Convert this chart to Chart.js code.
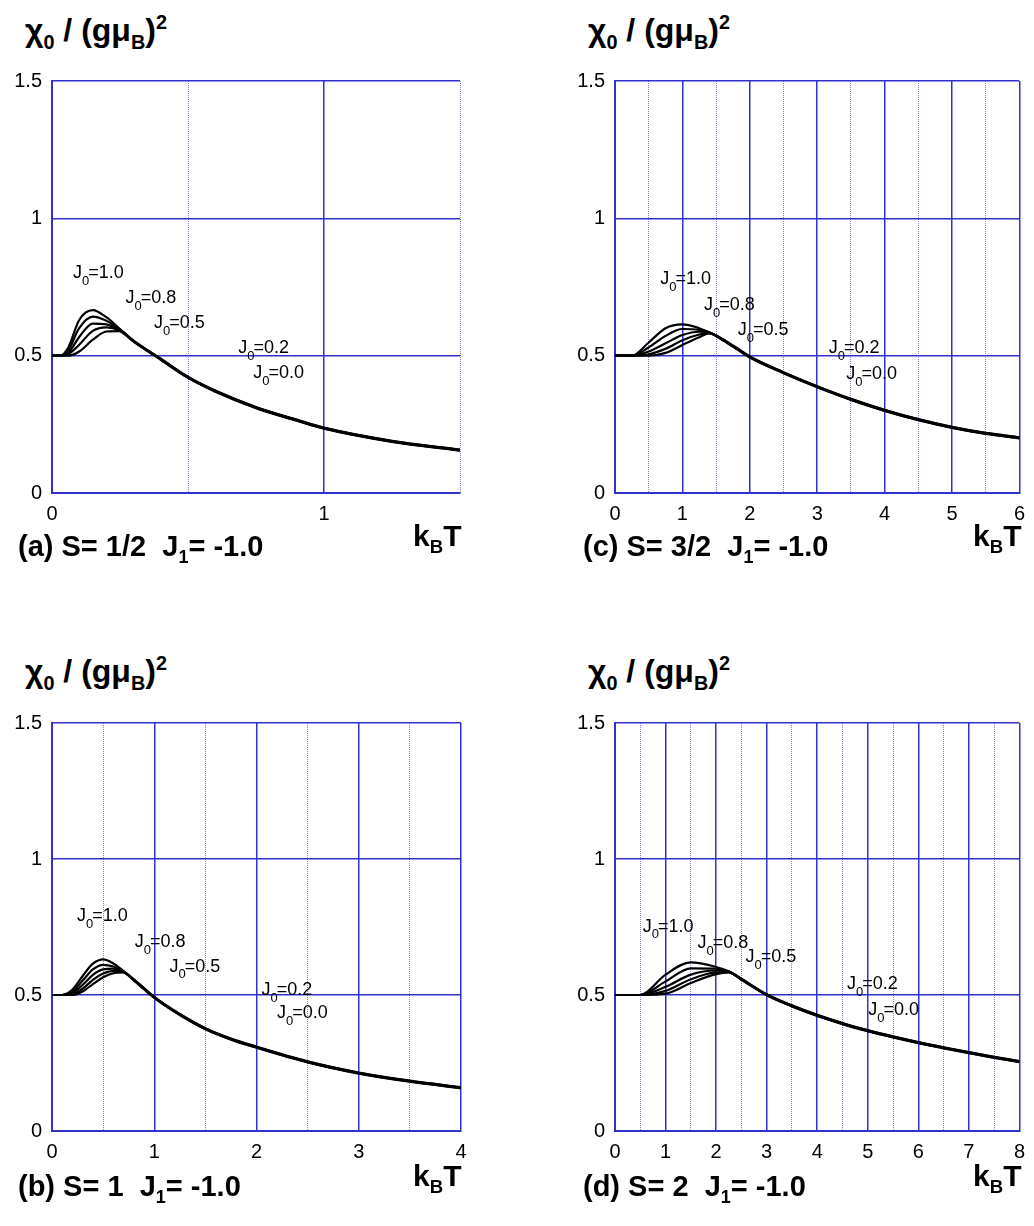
<!DOCTYPE html>
<html lang="en">
<head>
<meta charset="UTF-8">
<title>chi0 / (g muB)^2 vs kBT</title>
<script src="https://cdn.jsdelivr.net/npm/chart.js"></script>
<style>
  body { margin: 0; background: #fff; }
  #page { position: relative; width: 1034px; height: 1226px; overflow: hidden;
          font-family: "Liberation Sans", Arial, sans-serif; color: #000; }
  .panel { position: absolute; }
  .ttl, .cap, .kbt { position: absolute; font-weight: bold; white-space: nowrap; line-height: 1; }
  .ttl { font-size: 32px; }
  .cap { font-size: 29px; }
  .kbt { font-size: 30px; }
  .sb { font-size: 0.62em; position: relative; top: 0.38em; }
  .sp { font-size: 0.62em; position: relative; top: -0.62em; }
</style>
</head>
<body>
<div id="page">
  <!-- (a) -->
  <div class="ttl" style="left:25px;top:14px">χ<span class="sb">0</span> / (gμ<span class="sb">B</span>)<span class="sp">2</span></div>
  <div class="panel" style="left:0;top:0"><canvas id="chartA" width="520" height="613"></canvas></div>
  <div class="cap" style="left:18px;top:532px">(a) S= 1/2&nbsp; J<span class="sb">1</span>= -1.0</div>
  <div class="kbt" style="left:413px;top:521px">k<span class="sb">B</span>T</div>

  <!-- (c) -->
  <div class="ttl" style="left:588px;top:14px">χ<span class="sb">0</span> / (gμ<span class="sb">B</span>)<span class="sp">2</span></div>
  <div class="panel" style="left:563px;top:0"><canvas id="chartC" width="471" height="613"></canvas></div>
  <div class="cap" style="left:583px;top:532px">(c) S= 3/2&nbsp; J<span class="sb">1</span>= -1.0</div>
  <div class="kbt" style="left:973px;top:521px">k<span class="sb">B</span>T</div>

  <!-- (b) -->
  <div class="ttl" style="left:25px;top:655px">χ<span class="sb">0</span> / (gμ<span class="sb">B</span>)<span class="sp">2</span></div>
  <div class="panel" style="left:0;top:642px"><canvas id="chartB" width="520" height="584"></canvas></div>
  <div class="cap" style="left:18px;top:1172px">(b) S= 1&nbsp; J<span class="sb">1</span>= -1.0</div>
  <div class="kbt" style="left:413px;top:1161px">k<span class="sb">B</span>T</div>

  <!-- (d) -->
  <div class="ttl" style="left:588px;top:655px">χ<span class="sb">0</span> / (gμ<span class="sb">B</span>)<span class="sp">2</span></div>
  <div class="panel" style="left:563px;top:642px"><canvas id="chartD" width="471" height="584"></canvas></div>
  <div class="cap" style="left:583px;top:1172px">(d) S= 2&nbsp; J<span class="sb">1</span>= -1.0</div>
  <div class="kbt" style="left:973px;top:1161px">k<span class="sb">B</span>T</div>
</div>

<script>
// J0 values of the five curves (same order in every panel)
const j0Labels = ['1.0', '0.8', '0.5', '0.2', '0.0'];

// (a) S = 1/2
const tA = [0, 0.03, 0.06, 0.1, 0.15, 0.2, 0.25, 0.3, 0.4, 0.5, 0.6, 0.75, 0.9, 1.0, 1.25, 1.5];
const a10 = [0.5, 0.5, 0.53, 0.63, 0.666, 0.64, 0.597, 0.555, 0.489, 0.423, 0.373, 0.313, 0.267, 0.238, 0.190, 0.158];
const a08 = [0.5, 0.5, 0.52, 0.60, 0.642, 0.627, 0.595, 0.554, 0.488, 0.422, 0.372, 0.312, 0.266, 0.237, 0.189, 0.157];
const a05 = [0.5, 0.5, 0.51, 0.568, 0.617, 0.614, 0.592, 0.553, 0.487, 0.421, 0.371, 0.311, 0.265, 0.236, 0.188, 0.156];
const a02 = [0.5, 0.5, 0.505, 0.54, 0.59, 0.603, 0.590, 0.552, 0.486, 0.420, 0.370, 0.310, 0.264, 0.235, 0.187, 0.155];
const a00 = [0.5, 0.5, 0.5, 0.515, 0.558, 0.588, 0.589, 0.551, 0.485, 0.419, 0.369, 0.309, 0.263, 0.234, 0.186, 0.154];

// (b) S = 1
const tB = [0, 0.1, 0.2, 0.3, 0.4, 0.5, 0.6, 0.7, 0.8, 0.9, 1.0, 1.25, 1.5, 1.75, 2.0, 2.5, 3.0, 3.5, 4.0];
const b10 = [0.5, 0.5, 0.52, 0.57, 0.615, 0.631, 0.616, 0.588, 0.558, 0.525, 0.493, 0.430, 0.378, 0.340, 0.310, 0.256, 0.215, 0.185, 0.161];
const b08 = [0.5, 0.5, 0.513, 0.553, 0.594, 0.611, 0.605, 0.586, 0.557, 0.524, 0.492, 0.429, 0.377, 0.339, 0.309, 0.255, 0.214, 0.184, 0.160];
const b05 = [0.5, 0.5, 0.507, 0.537, 0.574, 0.594, 0.597, 0.585, 0.556, 0.523, 0.491, 0.428, 0.376, 0.338, 0.308, 0.254, 0.213, 0.183, 0.159];
const b02 = [0.5, 0.5, 0.503, 0.523, 0.556, 0.579, 0.589, 0.584, 0.555, 0.522, 0.490, 0.427, 0.375, 0.337, 0.307, 0.253, 0.212, 0.182, 0.158];
const b00 = [0.5, 0.5, 0.5, 0.513, 0.54, 0.565, 0.580, 0.583, 0.554, 0.521, 0.489, 0.426, 0.374, 0.336, 0.306, 0.252, 0.211, 0.181, 0.157];

// (c) S = 3/2
const tC = [0, 0.25, 0.5, 0.75, 1.0, 1.25, 1.4, 1.6, 1.8, 2.0, 2.5, 3.0, 3.5, 4.0, 4.5, 5.0, 5.5, 6.0];
const c10 = [0.5, 0.5, 0.548, 0.60, 0.614, 0.600, 0.585, 0.560, 0.529, 0.497, 0.440, 0.389, 0.343, 0.303, 0.269, 0.241, 0.219, 0.203];
const c08 = [0.5, 0.5, 0.53, 0.572, 0.597, 0.594, 0.584, 0.559, 0.528, 0.496, 0.439, 0.388, 0.342, 0.302, 0.268, 0.240, 0.218, 0.202];
const c05 = [0.5, 0.5, 0.515, 0.545, 0.575, 0.587, 0.583, 0.558, 0.527, 0.495, 0.438, 0.387, 0.341, 0.301, 0.267, 0.239, 0.217, 0.201];
const c02 = [0.5, 0.5, 0.505, 0.525, 0.556, 0.577, 0.582, 0.557, 0.526, 0.494, 0.437, 0.386, 0.340, 0.300, 0.266, 0.238, 0.216, 0.200];
const c00 = [0.5, 0.5, 0.5, 0.51, 0.539, 0.567, 0.581, 0.556, 0.525, 0.493, 0.436, 0.385, 0.339, 0.299, 0.265, 0.237, 0.215, 0.199];

// (d) S = 2
const tD = [0, 0.5, 1.0, 1.5, 2.0, 2.25, 2.5, 3.0, 3.5, 4.0, 4.5, 5.0, 5.5, 6.0, 6.5, 7.0, 7.5, 8.0];
const d10 = [0.5, 0.5, 0.575, 0.620, 0.603, 0.587, 0.560, 0.503, 0.462, 0.427, 0.397, 0.371, 0.348, 0.327, 0.308, 0.290, 0.273, 0.257];
const d08 = [0.5, 0.5, 0.550, 0.598, 0.597, 0.586, 0.559, 0.502, 0.461, 0.426, 0.396, 0.370, 0.347, 0.326, 0.307, 0.289, 0.272, 0.256];
const d05 = [0.5, 0.5, 0.530, 0.575, 0.590, 0.585, 0.558, 0.501, 0.460, 0.425, 0.395, 0.369, 0.346, 0.325, 0.306, 0.288, 0.271, 0.255];
const d02 = [0.5, 0.5, 0.515, 0.558, 0.583, 0.584, 0.557, 0.500, 0.459, 0.424, 0.394, 0.368, 0.345, 0.324, 0.305, 0.287, 0.270, 0.254];
const d00 = [0.5, 0.5, 0.505, 0.544, 0.577, 0.583, 0.556, 0.499, 0.458, 0.423, 0.393, 0.367, 0.344, 0.323, 0.304, 0.286, 0.269, 0.253];

// where the "J0=..." notes sit (kBT, chi), one per curve
const notesA = [[0.077, 0.80], [0.27, 0.71], [0.375, 0.619], [0.685, 0.528], [0.74, 0.437]];
const notesB = [[0.245, 0.79], [0.81, 0.695], [1.15, 0.604], [2.05, 0.518], [2.2, 0.434]];
const notesC = [[0.67, 0.778], [1.32, 0.684], [1.82, 0.593], [3.17, 0.527], [3.43, 0.433]];
const notesD = [[0.55, 0.751], [1.63, 0.69], [2.58, 0.638], [4.59, 0.54], [5.01, 0.445]];

const BLUE = '#3030cc';
const DOT = '#8585c4';
const FONT = '"Liberation Sans", Arial, sans-serif';

// J0 labels drawn on the canvas
const notePlugin = {
    id: 'notes',
    afterDatasetsDraw(chart, args, opts) {
        const ctx = chart.ctx;
        const xs = chart.scales.x, ys = chart.scales.y;
        ctx.save();
        ctx.fillStyle = '#000';
        ctx.textBaseline = 'middle';
        opts.points.forEach((p, i) => {
            let x = xs.getPixelForValue(p[0]);
            const y = ys.getPixelForValue(p[1]);
            ctx.font = '18px ' + FONT;
            ctx.fillText('J', x, y);
            x += ctx.measureText('J').width;
            ctx.font = '13px ' + FONT;
            ctx.fillText('0', x, y + 8);
            x += ctx.measureText('0').width - 1;
            ctx.font = '18px ' + FONT;
            ctx.fillText('=' + j0Labels[i], x, y);
        });
        ctx.restore();
    }
};

function makeChart(id, t, curves, xMax, notes, box) {
    const isHalf = v => Math.abs(v - Math.round(v)) > 1e-6;
    const datasets = curves.map((c, k) => ({
        label: 'J0=' + j0Labels[k],
        data: t.map((x, i) => ({ x: x, y: c[i] })),
        borderColor: '#000',
        borderWidth: 2.2,
        pointRadius: 0,
        fill: false,
        cubicInterpolationMode: 'monotone'
    }));
    const canvas = document.getElementById(id);
    new Chart(canvas.getContext('2d'), {
        type: 'line',
        data: { datasets: datasets },
        plugins: [notePlugin],
        options: {
            responsive: false,
            animation: false,
            events: [],
            layout: { padding: { top: box.top, right: canvas.width - box.right, left: 0, bottom: 0 } },
            plugins: {
                legend: { display: false },
                tooltip: { enabled: false },
                notes: { points: notes }
            },
            scales: {
                x: {
                    type: 'linear',
                    min: 0,
                    max: xMax,
                    afterFit: s => { s.height = canvas.height - box.bottom; },
                    ticks: {
                        stepSize: 0.5,
                        autoSkip: false,
                        maxRotation: 0,
                        padding: 9,
                        color: '#000',
                        font: { family: FONT, size: 20 },
                        callback: v => isHalf(v) ? '' : String(v)
                    },
                    grid: {
                        drawTicks: false,
                        lineWidth: c => (c.tick && isHalf(c.tick.value)) ? 1 : 1.5,
                        color: c => (c.tick && isHalf(c.tick.value)) ? DOT : BLUE
                    },
                    border: {
                        color: BLUE,
                        width: 2,
                        dash: c => (c.tick && isHalf(c.tick.value)) ? [1, 1] : []
                    }
                },
                y: {
                    type: 'linear',
                    min: 0,
                    max: 1.5,
                    afterFit: s => { s.width = box.left; },
                    ticks: {
                        stepSize: 0.5,
                        padding: 10,
                        color: '#000',
                        font: { family: FONT, size: 20 },
                        callback: v => String(v)
                    },
                    grid: { drawTicks: false, lineWidth: 1.5, color: BLUE },
                    border: { color: BLUE, width: 2 }
                }
            }
        }
    });
}

makeChart('chartA', tA, [a10, a08, a05, a02, a00], 1.5, notesA, { left: 52, right: 460, top: 81, bottom: 493 });
makeChart('chartC', tC, [c10, c08, c05, c02, c00], 6, notesC, { left: 52, right: 462, top: 81, bottom: 493 });
makeChart('chartB', tB, [b10, b08, b05, b02, b00], 4, notesB, { left: 52, right: 461, top: 81, bottom: 489 });
makeChart('chartD', tD, [d10, d08, d05, d02, d00], 8, notesD, { left: 52, right: 462, top: 81, bottom: 489 });
</script>
</body>
</html>
